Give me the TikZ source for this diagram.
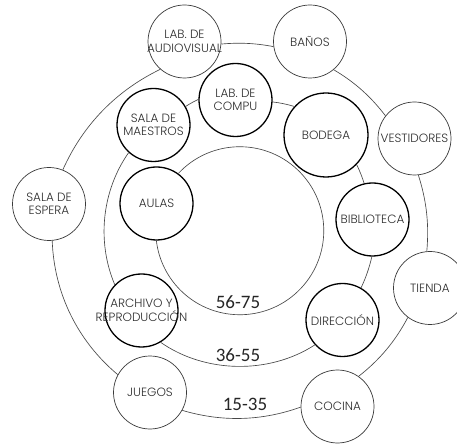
\documentclass[tikz,border=0pt]{standalone}
\usepackage{fontspec}
\IfFontExistsTF{Poppins Light}{\newfontfamily\roomfont{Poppins Light}}{\newfontfamily\roomfont{Poppins}}
\newfontfamily\rangefont{Carlito}
\definecolor{zbbg}{HTML}{FFFFFF}
\definecolor{zbline}{HTML}{3A3A3A}
\definecolor{zbtext}{HTML}{2E2E2E}
\definecolor{zbring}{HTML}{484848}
\tikzset{
  room/.style={circle, draw=zbline, line width=0.7pt, fill=zbbg,
               minimum size=73pt, inner sep=0pt},
  roommain/.style={room, draw=black, line width=1.3pt},
  roomtxt/.style={font=\roomfont\fontsize{12}{13.5}\selectfont, text=zbtext,
                  align=center, inner sep=0pt},
  ring/.style={draw=zbring, line width=0.65pt, looseness=0.9},
  ringlbl/.style={font=\rangefont\fontsize{19}{19}\selectfont, text=black!85, inner sep=0pt},
}
\begin{document}
\begin{tikzpicture}[x=1pt,y=1pt]
    \path[fill=zbbg, use as bounding box] (0,0) rectangle (457,444);
    % outer ring 15-35
    \node[room, label={[roomtxt]center:LAB. DE\\AUDIOVISUAL}] (labav)  at (184.5,402.5) {};
    \node[room, label={[roomtxt]center:BAÑOS}]                (banos)  at (310,402.5)   {};
    \node[room, label={[roomtxt]center:VESTIDORES}]           (vest)   at (414.5,305.5) {};
    \node[room, label={[roomtxt]center:TIENDA}]               (tienda) at (430,156)     {};
    \node[room, label={[roomtxt]center:COCINA}]               (cocina) at (337.5,37.5)  {};
    \node[room, label={[roomtxt]center:JUEGOS}]               (juegos) at (150,51.5)    {};
    \node[room, label={[roomtxt]center:SALA DE\\ESPERA}]      (espera) at (49,240)      {};
    % middle ring 36-55
    \node[roommain, label={[roomtxt]center:LAB. DE\\COMPU}]   (compu)    at (235.5,344) {};
    \node[roommain, minimum size=84pt, label={[roomtxt]center:BODEGA}] (bodega) at (326,309) {};
    \node[roommain, label={[roomtxt]center:BIBLIOTECA}]       (biblio)   at (372.5,224.5) {};
    \node[roommain, label={[roomtxt]center:DIRECCIÓN}]        (direc)    at (342.5,124) {};
    \node[roommain, label={[roomtxt]center:ARCHIVO Y\\REPRODUCCIÓN}] (archivo) at (141.5,133.5) {};
    \node[roommain, label={[roomtxt]center:SALA DE\\MAESTROS}] (maestros) at (153.5,319) {};
    % inner ring 56-75
    \node[roommain, label={[roomtxt]center:AULAS}]            (aulas)    at (156.5,240.5) {};
    \node[ringlbl] (r5675) at (238,142) {56-75};
    \node[ringlbl] (r3655) at (238,89)  {36-55};
    \node[ringlbl] (r1535) at (245,40)  {15-35};
    \draw[ring] (labav.-4)   to[bend left=8]    (banos.188);
    \draw[ring] (banos.-50)  to[bend left=11]   (vest.142);
    \draw[ring] (vest.-84)   to[bend left=11.5] (tienda.95);
    \draw[ring] (tienda.233) to[bend left=12]   (cocina.55);
    \draw[ring] (cocina.181) to[bend left=18]   (juegos.-29);
    \draw[ring] (juegos.151) to[bend left=24]   (espera.-85);
    \draw[ring] (espera.68)  to[bend left=20]   (labav.-131);
    \draw[ring] (maestros.30) to[bend left=3.5] (compu.179);
    \draw[ring] (compu.-3)    to[bend left=5]   (bodega.138);
    \draw[ring] (bodega.-44)  to[bend left=4]   (biblio.103);
    \draw[ring] (biblio.-91)  to[bend left=6]   (direc.60);
    \draw[ring] (direc.222)   to[bend left=34]  (archivo.-59);
    \draw[ring] (archivo.136) to[bend left=29]  (maestros.-132);
    \draw[ring] (aulas.54) arc[start angle=137, end angle=-173, radius=84pt];
\end{tikzpicture}
\end{document}
